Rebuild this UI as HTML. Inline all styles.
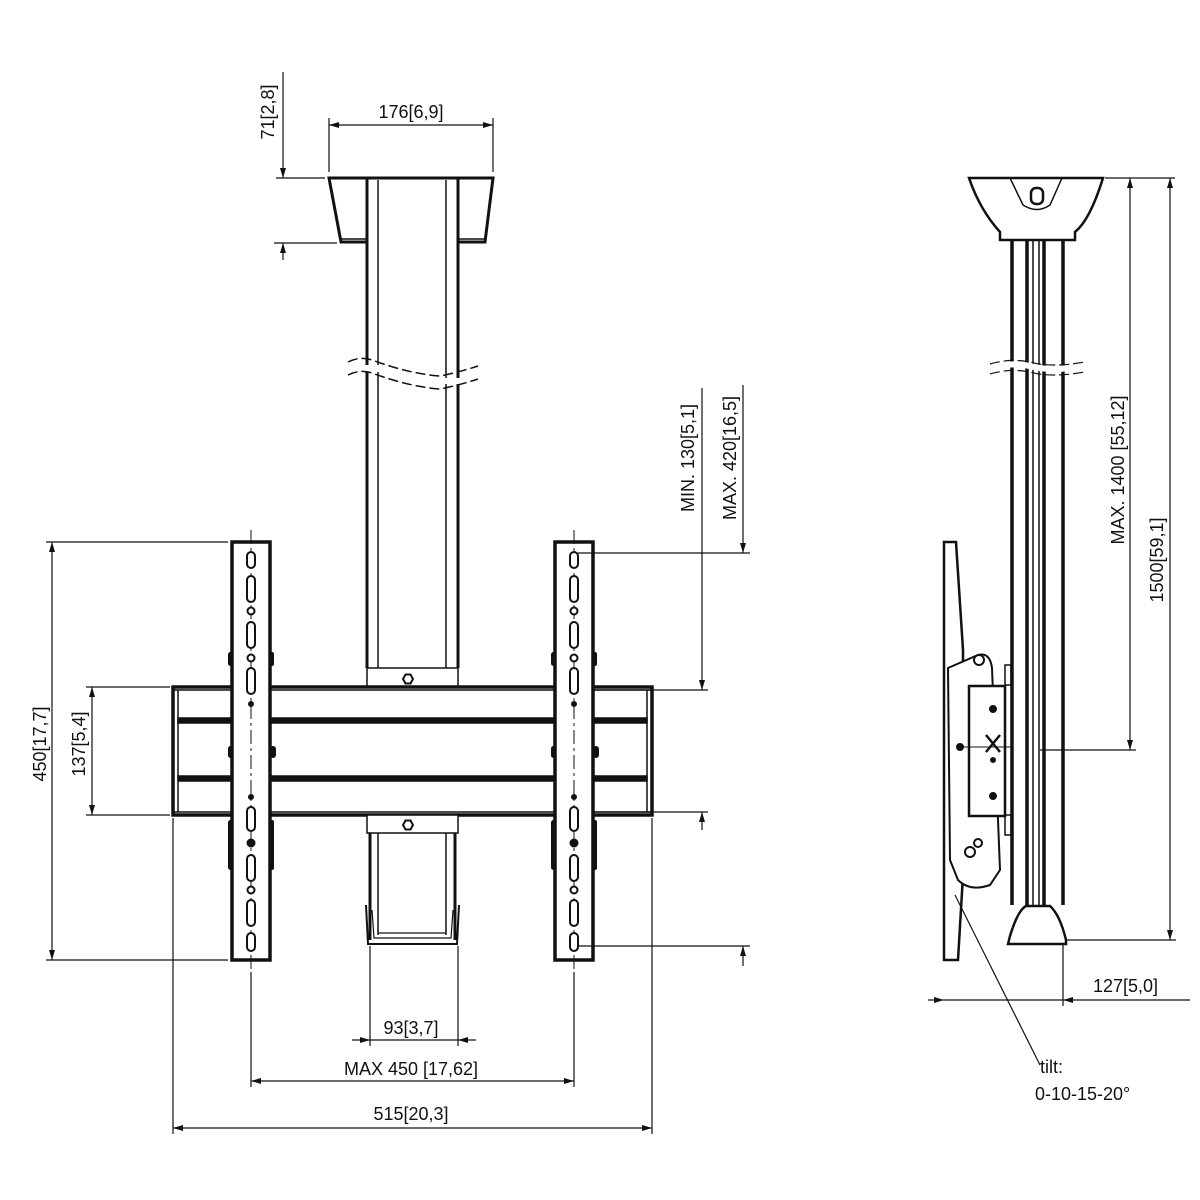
<!DOCTYPE html>
<html><head><meta charset="utf-8"><style>
html,body{margin:0;padding:0;background:#fff}
svg{display:block}
text{font-family:"Liberation Sans","DejaVu Sans",sans-serif;font-size:18px;fill:#111}
</style></head><body>
<svg width="1200" height="1200" viewBox="0 0 1200 1200" xmlns="http://www.w3.org/2000/svg">
<defs>
<marker id="a" viewBox="0 0 10 6" refX="10" refY="3" markerWidth="10" markerHeight="6" orient="auto-start-reverse" markerUnits="userSpaceOnUse"><path d="M0,0L10,3L0,6z" fill="#111"/></marker>
</defs>
<g stroke="#111" fill="none">
<!-- ===== FRONT VIEW ===== -->
<path d="M367,242 L341,242 L329,178 L493,178 L485,242 L458,242" stroke-width="3" fill="#fff"/>
<line x1="341" y1="239" x2="367" y2="239" stroke-width="1.5"/>
<line x1="458" y1="239" x2="485" y2="239" stroke-width="1.5"/>
<g stroke-width="3">
<line x1="367" y1="178" x2="367" y2="365"/><line x1="458" y1="178" x2="458" y2="378"/>
<line x1="367" y1="372" x2="367" y2="668"/><line x1="458" y1="384" x2="458" y2="668"/>
</g>
<g stroke-width="1.5">
<line x1="378" y1="180" x2="378" y2="365"/><line x1="446" y1="180" x2="446" y2="378"/>
<line x1="378" y1="372" x2="378" y2="668"/><line x1="446" y1="384" x2="446" y2="668"/>
</g>
<path d="M348,362 Q360,356 372,360 Q410,374 440,376 Q460,372 478,366" stroke-width="1.5" stroke-dasharray="10 4"/>
<path d="M348,375 Q360,369 372,373 Q410,387 440,389 Q460,385 478,379" stroke-width="1.5" stroke-dasharray="10 4"/>
<rect x="367" y="668" width="91" height="20" stroke-width="1.5" fill="#fff"/>
<polygon points="403,679 405.5,674.5 410.5,674.5 413,679 410.5,683.5 405.5,683.5" stroke-width="2"/>
<rect x="173" y="687" width="479" height="128" stroke-width="3.5" fill="#fff"/>
<line x1="178" y1="690" x2="178" y2="812" stroke-width="1.5"/>
<line x1="647" y1="690" x2="647" y2="812" stroke-width="1.5"/>
<rect x="178" y="718" width="469" height="5" stroke-width="1.5" fill="#111"/>
<rect x="178" y="776" width="469" height="5" stroke-width="1.5" fill="#111"/>
<line x1="173" y1="690" x2="652" y2="690" stroke-width="1.5"/>
<line x1="173" y1="812" x2="652" y2="812" stroke-width="1.5"/>
<rect x="367" y="815" width="91" height="18" stroke-width="1.5" fill="#fff"/>
<polygon points="403,825 405.5,820.5 410.5,820.5 413,825 410.5,829.5 405.5,829.5" stroke-width="2"/>
<line x1="370" y1="833" x2="370" y2="940" stroke-width="3"/><line x1="455" y1="833" x2="455" y2="940" stroke-width="3"/>
<line x1="378" y1="833" x2="378" y2="935" stroke-width="1.5"/><line x1="446" y1="833" x2="446" y2="935" stroke-width="1.5"/>
<path d="M366,905 L368,944 L457,944 L459,905" stroke-width="2"/>
<path d="M372,910 L374,938 L451,938 L453,910" stroke-width="1.2"/>
<line x1="378" y1="933" x2="446" y2="933" stroke-width="1.2"/>
<g id="strip">
<rect x="232" y="542" width="38" height="418" stroke-width="3.5" fill="#fff"/>
<line x1="251" y1="530" x2="251" y2="972" stroke-width="1" stroke-dasharray="14 4 3 4"/>
<g stroke-width="2" fill="#fff">
<rect x="247" y="552" width="8" height="16" rx="4"/>
<rect x="247" y="576" width="8" height="26" rx="4"/>
<circle cx="251" cy="611" r="3.5"/>
<rect x="247" y="622" width="8" height="26" rx="4"/>
<circle cx="251" cy="658" r="3.5"/>
<rect x="247" y="668" width="8" height="26" rx="4"/>
<circle cx="251" cy="704" r="2" fill="#111"/>
<circle cx="251" cy="797" r="2" fill="#111"/>
<rect x="247" y="807" width="8" height="24" rx="4"/>
<circle cx="251" cy="843" r="3.5" fill="#111"/>
<rect x="247" y="855" width="8" height="26" rx="4"/>
<circle cx="251" cy="890" r="3.5"/>
<rect x="247" y="900" width="8" height="26" rx="4"/>
<rect x="247" y="933" width="8" height="18" rx="4"/>
</g>
<g fill="#111" stroke="none">
<rect x="228" y="652" width="5" height="14" rx="2.5"/><rect x="270" y="652" width="4" height="14" rx="2"/>
<rect x="228" y="746" width="5" height="12" rx="2.5"/><rect x="270" y="746" width="6" height="12" rx="3"/>
<rect x="228" y="820" width="5" height="50" rx="2.5"/><rect x="270" y="820" width="4" height="50" rx="2"/>
</g>
</g>
<use href="#strip" x="323"/>
<g stroke-width="1.2">
<line x1="329" y1="118" x2="329" y2="172"/><line x1="493" y1="118" x2="493" y2="172"/>
<line x1="329" y1="125" x2="493" y2="125" marker-start="url(#a)" marker-end="url(#a)"/>
<line x1="276" y1="178" x2="325" y2="178"/><line x1="274" y1="243" x2="337" y2="243"/>
<line x1="283" y1="72" x2="283" y2="178" marker-end="url(#a)"/>
<line x1="283" y1="260" x2="283" y2="243" marker-end="url(#a)"/>
<line x1="46" y1="542" x2="228" y2="542"/><line x1="46" y1="960" x2="228" y2="960"/>
<line x1="52" y1="542" x2="52" y2="960" marker-start="url(#a)" marker-end="url(#a)"/>
<line x1="86" y1="687" x2="170" y2="687"/><line x1="86" y1="815" x2="170" y2="815"/>
<line x1="92" y1="687" x2="92" y2="815" marker-start="url(#a)" marker-end="url(#a)"/>
<line x1="595" y1="690" x2="708" y2="690"/><line x1="595" y1="812" x2="708" y2="812"/>
<line x1="702" y1="388" x2="702" y2="690" marker-end="url(#a)"/>
<line x1="702" y1="830" x2="702" y2="812" marker-end="url(#a)"/>
<line x1="578" y1="553" x2="750" y2="553"/><line x1="578" y1="946" x2="750" y2="946"/>
<line x1="743" y1="385" x2="743" y2="553" marker-end="url(#a)"/>
<line x1="743" y1="966" x2="743" y2="946" marker-end="url(#a)"/>
<line x1="370" y1="946" x2="370" y2="1046"/><line x1="458" y1="946" x2="458" y2="1046"/>
<line x1="352" y1="1040" x2="370" y2="1040" marker-end="url(#a)"/>
<line x1="476" y1="1040" x2="458" y2="1040" marker-end="url(#a)"/>
<line x1="370" y1="1040" x2="458" y2="1040"/>
<line x1="251" y1="972" x2="251" y2="1087"/><line x1="574" y1="972" x2="574" y2="1087"/>
<line x1="251" y1="1081" x2="574" y2="1081" marker-start="url(#a)" marker-end="url(#a)"/>
<line x1="173" y1="818" x2="173" y2="1134"/><line x1="652" y1="818" x2="652" y2="1134"/>
<line x1="173" y1="1128" x2="652" y2="1128" marker-start="url(#a)" marker-end="url(#a)"/>
</g>

<!-- ===== SIDE VIEW ===== -->
<path d="M969,178 L1103,178 Q1090,220 1075,232 L1075,240 L1000,240 L1000,232 Q980,210 969,178 Z" stroke-width="2.5" fill="#fff"/>
<path d="M1010,178 L1062,178 L1050,205 Q1037,214 1023,205 Z" stroke-width="1.5"/>
<rect x="1031" y="188" width="12" height="16" rx="5" stroke-width="2.5"/>
<g stroke-width="3.5">
<line x1="1012" y1="240" x2="1012" y2="905"/><line x1="1063" y1="240" x2="1063" y2="905"/>
<line x1="1027" y1="240" x2="1027" y2="905"/><line x1="1044" y1="240" x2="1044" y2="905"/>
</g>
<line x1="1033" y1="240" x2="1033" y2="905" stroke-width="1.5"/>
<line x1="1039" y1="240" x2="1039" y2="905" stroke-width="1.5"/>
<path d="M990,368 Q1010,362 1030,366 Q1050,372 1085,366" stroke="#fff" stroke-width="6"/>
<path d="M990,364 Q1010,358 1030,362 Q1050,368 1085,362" stroke-width="1.2" stroke-dasharray="10 4"/>
<path d="M990,374 Q1010,368 1030,372 Q1050,378 1085,372" stroke-width="1.2" stroke-dasharray="10 4"/>
<path d="M1008,944 L1010,936 Q1018,910 1026,906 L1050,906 Q1060,915 1066,940 L1066,944 Z" stroke-width="2.5" fill="#fff"/>
<path d="M944,542 L956,542 L963,650 L963,875 L958,960 L944,960 Z" stroke-width="2.5" fill="#fff"/>
<path d="M948,668 L978,655 Q990,652 992,668 L1000,870 L990,885 Q970,892 958,880 L950,860 Z" stroke-width="2" fill="#fff"/>
<rect x="969" y="686" width="36" height="130" stroke-width="2.5" fill="#fff"/>
<rect x="1005" y="665" width="6" height="20" stroke-width="1.5"/>
<rect x="1005" y="815" width="6" height="20" stroke-width="1.5"/>
<circle cx="979" cy="660" r="5" stroke-width="2"/>
<circle cx="960" cy="747" r="3" stroke-width="2" fill="#111"/>
<circle cx="993" cy="709" r="3.5" fill="#111" stroke-width="1"/>
<circle cx="993" cy="796" r="3.5" fill="#111" stroke-width="1"/>
<path d="M986,735 L1000,752 M1000,735 L986,752" stroke-width="2.5"/>
<circle cx="993" cy="760" r="2.5" fill="#111"/>
<circle cx="978" cy="843" r="4" stroke-width="2"/>
<circle cx="970" cy="852" r="5" stroke-width="2"/>
<line x1="958" y1="747" x2="1012" y2="747" stroke-width="1"/>
<g stroke-width="1.2">
<line x1="1105" y1="178" x2="1175" y2="178"/>
<line x1="1130" y1="178" x2="1130" y2="750" marker-start="url(#a)" marker-end="url(#a)"/>
<line x1="1040" y1="750" x2="1136" y2="750"/>
<line x1="1066" y1="940" x2="1176" y2="940"/>
<line x1="1170" y1="178" x2="1170" y2="940" marker-start="url(#a)" marker-end="url(#a)"/>
<line x1="1063" y1="945" x2="1063" y2="1006"/>
<line x1="928" y1="1000" x2="944" y2="1000" marker-end="url(#a)"/>
<line x1="944" y1="1000" x2="1063" y2="1000"/>
<line x1="1190" y1="1000" x2="1063" y2="1000" marker-end="url(#a)"/>
<line x1="955" y1="895" x2="1040" y2="1065"/>
</g>
</g>
<text x="411" y="118" text-anchor="middle">176[6,9]</text>
<text transform="translate(274,112) rotate(-90)" text-anchor="middle">71[2,8]</text>
<text transform="translate(46,744) rotate(-90)" text-anchor="middle">450[17,7]</text>
<text transform="translate(85,744) rotate(-90)" text-anchor="middle">137[5,4]</text>
<text transform="translate(694,458) rotate(-90)" text-anchor="middle">MIN. 130[5,1]</text>
<text transform="translate(736,458) rotate(-90)" text-anchor="middle">MAX. 420[16,5]</text>
<text x="411" y="1034" text-anchor="middle">93[3,7]</text>
<text x="411" y="1075" text-anchor="middle">MAX 450 [17,62]</text>
<text x="411" y="1120" text-anchor="middle">515[20,3]</text>
<text transform="translate(1124,470) rotate(-90)" text-anchor="middle">MAX. 1400 [55,12]</text>
<text transform="translate(1163,560) rotate(-90)" text-anchor="middle">1500[59,1]</text>
<text x="1093" y="992">127[5,0]</text>
<text x="1040" y="1073">tilt:</text>
<text x="1035" y="1100">0-10-15-20°</text>
</svg>
</body></html>
